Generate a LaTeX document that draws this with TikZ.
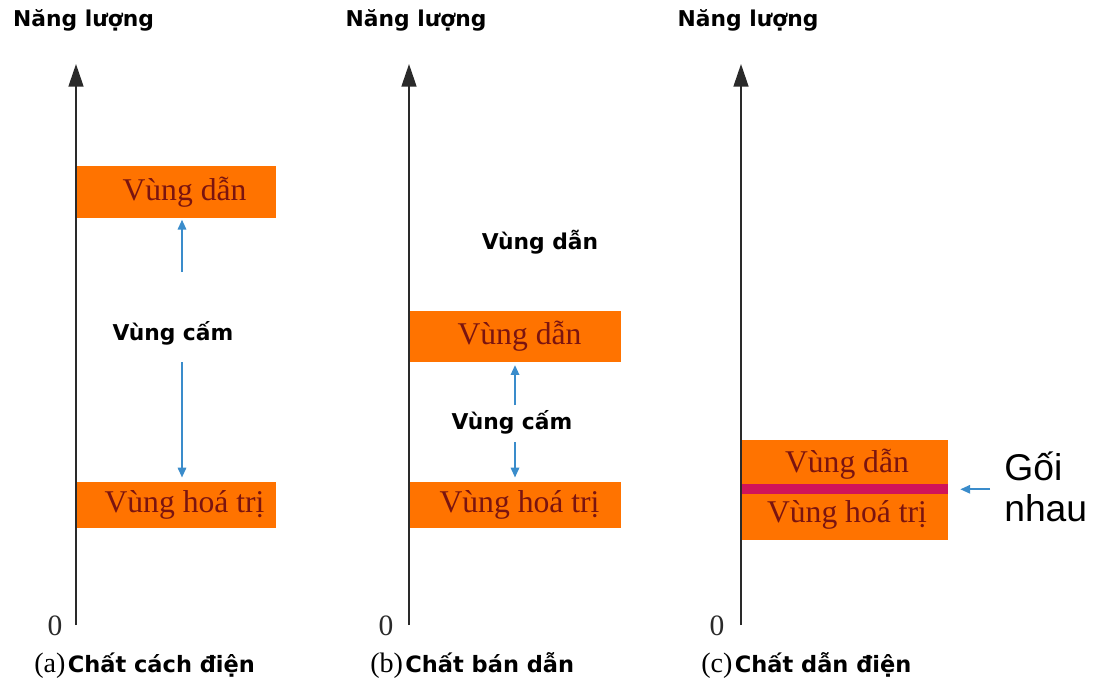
\documentclass[tikz,border=0pt]{standalone}
\usepackage{fontspec}
\setmainfont{Liberation Serif}
\newfontfamily\labelfont{DejaVu Sans}
\newfontfamily\notefont{Liberation Sans}
\usetikzlibrary{arrows.meta,positioning}

\definecolor{bandorange}{HTML}{FF7300}
\definecolor{bandtext}{HTML}{7A1410}
\definecolor{overlapred}{HTML}{D0145A}
\definecolor{gapblue}{HTML}{3A8CCB}
\definecolor{axisgray}{HTML}{2A2A2A}

\begin{document}
\begin{tikzpicture}[
            x=0.025cm, y=-0.025cm,
            band/.style={fill=bandorange, inner sep=0pt, text=bandtext, font=\fontsize{22.5}{24}\selectfont},
            lbl/.style={font=\labelfont\bfseries\fontsize{15.5}{18}\selectfont, inner sep=1pt},
            caption/.style={anchor=west, inner sep=0pt, text=black},
            zero/.style={font=\fontsize{21}{22}\selectfont, text=axisgray, inner sep=0pt},
            note/.style={anchor=west, inner sep=0pt, align=left, font=\notefont\fontsize{26.5}{29}\selectfont},
            axis/.style={draw=axisgray, line width=1.4pt, -{Triangle[length=16pt,width=10.5pt]}},
            gap/.style={draw=gapblue, line width=1.3pt, -{Triangle[length=7pt,width=6pt]}},
            >=Stealth
        ]
        \useasboundingbox (0,0) rectangle (1102,685);

        % (a) chat cach dien
        \node[lbl] (ela) at (83.5,20) {Năng lượng};
        \node[band, minimum width=4.975cm, minimum height=1.3cm] (cba) at (176.5,192) {\hspace*{0.4cm}Vùng dẫn};
        \node[band, minimum width=4.975cm, minimum height=1.15cm] (vba) at (176.5,505) {\hspace*{0.4cm}Vùng hoá trị};
        \node[lbl] (cama) at (173,333) {Vùng cấm};
        \coordinate (ua) at (182,272);
        \coordinate (da) at (182,362);
        \draw[gap, shorten >=1pt] (ua) -- (ua |- cba.south);
        \draw[gap, shorten >=3pt] (da) -- (da |- vba.north);
        \coordinate (a0) at (76,625);
        \coordinate (atop) at (76,64);
        \draw[axis] (a0) -- (atop);
        \node[zero] (za) at (55,626) {0};
        \node[caption] (capa) at (34,666) {{\fontsize{20}{22}\selectfont (a)}\,{\labelfont\bfseries\fontsize{16}{18}\selectfont Chất cách điện}};

        % (b) chat ban dan
        \node[lbl] (elb) at (416,20) {Năng lượng};
        \node[lbl] (freeb) at (540,242) {Vùng dẫn};
        \node[band, minimum width=5.275cm, minimum height=1.275cm] (cbb) at (515.5,336.5) {\hspace*{0.2cm}Vùng dẫn};
        \node[band, minimum width=5.275cm, minimum height=1.15cm] (vbb) at (515.5,505) {\hspace*{0.2cm}Vùng hoá trị};
        \node[lbl] (camb) at (512,422) {Vùng cấm};
        \coordinate (ub) at (515,405);
        \coordinate (db) at (515,442);
        \draw[gap, shorten >=2pt] (ub) -- (ub |- cbb.south);
        \draw[gap, shorten >=3pt] (db) -- (db |- vbb.north);
        \coordinate (b0) at (409,625);
        \coordinate (btop) at (409,64);
        \draw[axis] (b0) -- (btop);
        \node[zero] (zb) at (386,626) {0};
        \node[caption] (capb) at (370,666) {{\fontsize{20}{22}\selectfont (b)}\,{\labelfont\bfseries\fontsize{16}{18}\selectfont Chất bán dẫn}};

        % (c) chat dan dien
        \node[lbl] (elc) at (748,20) {Năng lượng};
        \node[band, minimum width=5.15cm, minimum height=1.225cm] (cbc) at (845,464.5) {\hspace*{0.1cm}Vùng dẫn};
        \node[band, minimum width=5.15cm, minimum height=1.275cm] (vbc) at (845,514.5) {\hspace*{0.1cm}Vùng hoá trị};
        \draw[overlapred, line width=7.1pt] (cbc.south west) -- (cbc.south east);
        \node[note] (goi) at (1004,487) {Gối\\nhau};
        \draw[gap, shorten <=0.35cm, shorten >=0.3cm] (goi.west |- cbc.south) -- (cbc.south east);
        \coordinate (c0) at (741,625);
        \coordinate (ctop) at (741,64);
        \draw[axis] (c0) -- (ctop);
        \node[zero] (zc) at (717,626) {0};
        \node[caption] (capc) at (701,666) {{\fontsize{20}{22}\selectfont (c)}\,{\labelfont\bfseries\fontsize{16}{18}\selectfont Chất dẫn điện}};
    \end{tikzpicture}
\end{document}
